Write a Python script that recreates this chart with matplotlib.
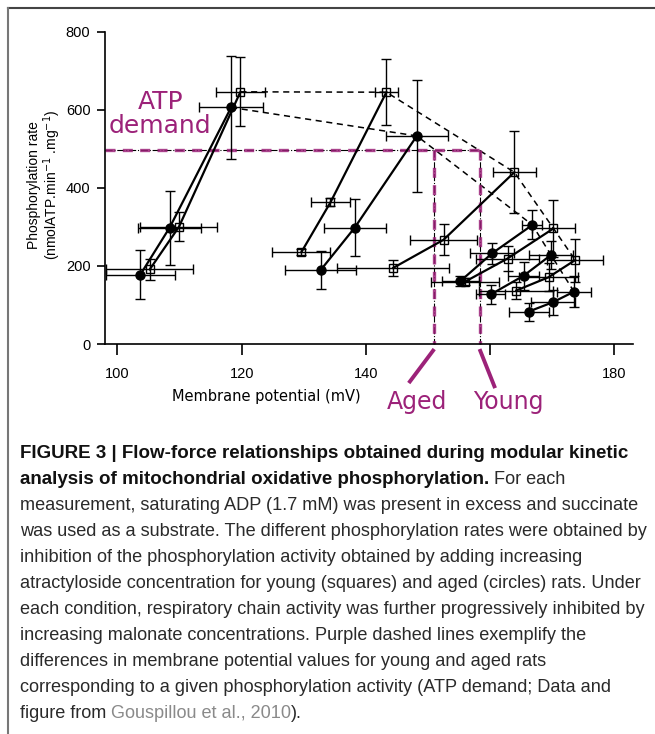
import matplotlib
matplotlib.use("Agg")
import matplotlib.pyplot as plt
from matplotlib.lines import Line2D


# ==========================
# Data
# ==========================

# young rats: open squares, one list per atractyloside level
young_x = [[105.2, 109.9, 119.8], [129.6, 134.3, 143.3], [144.4, 152.5, 163.9],
           [156.0, 162.8, 170.2], [164.2, 169.4, 173.7]]
young_y = [[191, 300, 646], [235, 363, 645], [195, 267, 440],
           [160, 219, 296], [137, 171, 215]]
young_xerr = [[7.0, 6.2, 4.0], [4.7, 3.2, 1.8], [9.0, 5.4, 3.5],
              [5.5, 5.0, 3.4], [6.0, 4.8, 4.5]]
young_yerr = [[26, 37, 88], [8, 10, 85], [20, 40, 105],
              [10, 33, 72], [23, 36, 55]]

# aged rats: filled circles
aged_x = [[103.7, 108.4, 118.3], [132.7, 138.2, 148.2], [155.2, 160.3, 166.8],
          [160.1, 165.4, 169.8], [166.2, 170.1, 173.5]]
aged_y = [[178, 298, 606], [189, 298, 533], [161, 232, 305],
          [127, 175, 228], [83, 107, 134]]
aged_xerr = [[5.6, 5.1, 5.1], [5.7, 5.0, 5.0], [3.0, 3.5, 1.6],
             [2.3, 2.5, 3.5], [3.2, 3.6, 2.8]]
aged_yerr = [[62, 95, 133], [48, 73, 144], [12, 28, 37],
             [24, 36, 35], [23, 32, 40]]

ATP_DEMAND = 497
AGED_AT_DEMAND = 151.0
YOUNG_AT_DEMAND = 158.3

x_ticks = [100, 120, 140, 160, 180]
x_tick_labels = ["100", "120", "140", "", "180"]
y_ticks = [0, 200, 400, 600, 800]

caption_lines = [
    [("FIGURE 3 | Flow-force relationships obtained during modular kinetic", "bold")],
    [("analysis of mitochondrial oxidative phosphorylation.", "bold"), (" For each", "normal")],
    [("measurement, saturating ADP (1.7 mM) was present in excess and succinate", "normal")],
    [("was used as a substrate. The different phosphorylation rates were obtained by", "normal")],
    [("inhibition of the phosphorylation activity obtained by adding increasing", "normal")],
    [("atractyloside concentration for young (squares) and aged (circles) rats. Under", "normal")],
    [("each condition, respiratory chain activity was further progressively inhibited by", "normal")],
    [("increasing malonate concentrations. Purple dashed lines exemplify the", "normal")],
    [("differences in membrane potential values for young and aged rats", "normal")],
    [("corresponding to a given phosphorylation activity (ATP demand; Data and", "normal")],
    [("figure from ", "normal"), ("Gouspillou et al., 2010", "link"), (").", "normal")],
]


# ==========================
# Style
# ==========================

W, H = 655, 734
PURPLE = "#9c2279"
NARROW = ["Liberation Sans Narrow", "Liberation Sans", "DejaVu Sans"]

fig = plt.figure(figsize=(W / 100, H / 100), dpi=100)
fig.patch.set_facecolor("white")

ax = fig.add_axes([105 / W, 1 - 344 / H, 528 / W, 312.3 / H])


# ==========================
# Series
# ==========================

for xs, ys, xe, ye in zip(young_x, young_y, young_xerr, young_yerr):
    ax.errorbar(xs, ys, xerr=xe, yerr=ye, fmt="none", ecolor="black",
                elinewidth=1.0, capsize=3.5, capthick=1.0, zorder=2)
    ax.plot(xs, ys, color="black", lw=1.6, marker="s", ms=6,
            mfc="none", mec="black", mew=1.0, zorder=3)

for xs, ys, xe, ye in zip(aged_x, aged_y, aged_xerr, aged_yerr):
    ax.errorbar(xs, ys, xerr=xe, yerr=ye, fmt="none", ecolor="black",
                elinewidth=1.0, capsize=3.5, capthick=1.0, zorder=2)
    ax.plot(xs, ys, color="black", lw=1.6, marker="o", ms=6.5,
            mfc="black", mec="black", zorder=3)

# dashed envelopes through the uninhibited points
ax.plot([s[-1] for s in young_x], [s[-1] for s in young_y],
        color="black", lw=1.1, ls=(0, (4, 3)), zorder=1)
ax.plot([s[-1] for s in aged_x], [s[-1] for s in aged_y],
        color="black", lw=1.1, ls=(0, (4, 3)), zorder=1)


# ==========================
# ATP demand guides
# ==========================

guides = [
    ([98, YOUNG_AT_DEMAND], [ATP_DEMAND, ATP_DEMAND]),
    ([AGED_AT_DEMAND, AGED_AT_DEMAND], [ATP_DEMAND, 0]),
    ([YOUNG_AT_DEMAND, YOUNG_AT_DEMAND], [ATP_DEMAND, 0]),
]

for gx, gy in guides:
    ax.plot(gx, gy, color="black", lw=0.8, ls="-.", zorder=1, clip_on=False)
    ax.plot(gx, gy, color=PURPLE, lw=2.4, ls=(0, (3, 2.2)), alpha=0.85,
            zorder=1, clip_on=False)

ax.plot([AGED_AT_DEMAND, 146.9], [-13, -100], color=PURPLE, lw=2.8,
        solid_capstyle="butt", clip_on=False)
ax.plot([YOUNG_AT_DEMAND, 160.8], [-13, -113], color=PURPLE, lw=2.8,
        solid_capstyle="butt", clip_on=False)

ax.text(148.2, -148, "Aged", color=PURPLE, fontsize=17, ha="center",
        va="center", clip_on=False)
ax.text(163.0, -148, "Young", color=PURPLE, fontsize=17, ha="center",
        va="center", clip_on=False)
ax.text(106.9, 589, "ATP\ndemand", color=PURPLE, fontsize=18, ha="center",
        va="center", linespacing=1.0)


# ==========================
# Axes
# ==========================

ax.set_xlim(98, 183)
ax.set_ylim(0, 800)

ax.spines["top"].set_visible(False)
ax.spines["right"].set_visible(False)
for side in ["left", "bottom"]:
    ax.spines[side].set_linewidth(1.2)

ax.set_xticks(x_ticks)
ax.set_xticklabels(x_tick_labels)
ax.set_yticks(y_ticks)

ax.tick_params(axis="x", length=8, width=1.2, pad=8.5)
ax.tick_params(axis="y", length=6, width=1.2, pad=4.5)
for lab in ax.get_xticklabels() + ax.get_yticklabels():
    lab.set_family(NARROW)
    lab.set_fontsize(10.5)

ax.text(0.306, -0.168, "Membrane potential (mV)", transform=ax.transAxes,
        fontsize=10.5, ha="center", va="center")

ax.text(-0.114, 0.51,
        "Phosphorylation rate\n(nmolATP.min$^{-1}$ .mg$^{-1}$)",
        transform=ax.transAxes, rotation=90, ha="center", va="center",
        fontsize=10, family=["Liberation Sans", "DejaVu Sans"],
        linespacing=1.0)


# ==========================
# Frame
# ==========================

fig.add_artist(Line2D([8 / W, 1], [1 - 8 / H, 1 - 8 / H], color="#444444", lw=1.5))
fig.add_artist(Line2D([8 / W, 8 / W], [0, 1 - 8 / H], color="#777777", lw=1.5))


# ==========================
# Caption
# ==========================

renderer = fig.canvas.get_renderer()


def fit_size(text, target, **kw):
    probe = fig.text(0, 0, text, fontsize=14, family=NARROW, **kw)
    size = 14 * target / probe.get_window_extent(renderer).width
    probe.remove()
    return size


cap_fs = fit_size(caption_lines[2][0][0], 625)
bold_fs = fit_size(caption_lines[0][0][0], 612, fontweight="bold")

CAP_X = 20
CAP_Y0 = 453
CAP_DY = 25.9

styles = {
    "bold": dict(fontweight="bold", color="#111111", fontsize=bold_fs),
    "normal": dict(fontweight="normal", color="#2a2a2a", fontsize=cap_fs),
    "link": dict(fontweight="normal", color="#8a8a8a", fontsize=cap_fs),
}

for i, pieces in enumerate(caption_lines):
    x = CAP_X
    y = CAP_Y0 + i * CAP_DY + 5.5
    for text, style in pieces:
        t = fig.text(x / W, 1 - y / H, text, family=NARROW,
                     va="baseline", ha="left", **styles[style])
        x += t.get_window_extent(renderer).width


fig.savefig("out.png", dpi=100)
